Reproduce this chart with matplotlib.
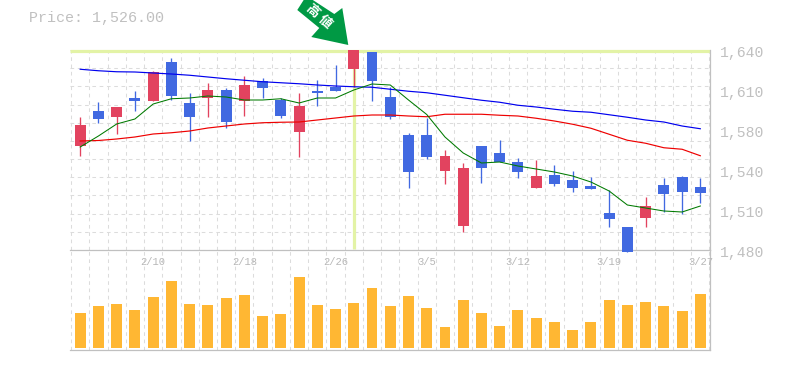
import matplotlib
matplotlib.use("Agg")
from matplotlib import pyplot as plt
from matplotlib.patches import Polygon
from matplotlib.transforms import Affine2D
import numpy as np

# Candles
opens = [1563.2, 1591.2, 1586.4, 1601.6, 1599.2, 1630.4, 1597.6, 1601.6, 1608, 1599.2, 1615.2, 1600,
         1574.4, 1607.2, 1610.4, 1624.8, 1638.4, 1602.4, 1572, 1572, 1543.4, 1499.2, 1563.2, 1557.6,
         1550.4, 1529.6, 1540, 1536, 1531.2, 1509.6, 1498.4, 1505.6, 1532, 1538.4, 1530.4]
closes = [1580, 1584.8, 1594.4, 1599.2, 1622.4, 1603.2, 1586.4, 1608, 1582.4, 1612, 1609.6, 1587.2,
          1595.2, 1605.6, 1607.2, 1640, 1615.2, 1586.4, 1542.6, 1554.4, 1555.2, 1545.6, 1545.6, 1550.4,
          1542.4, 1539.2, 1532.8, 1529.6, 1528.8, 1504.8, 1478.6, 1515.2, 1524.8, 1526.4, 1526]
highs = [1586.4, 1598.4, 1594.4, 1607.2, 1623.2, 1633.6, 1605.6, 1613.6, 1609.6, 1619.2, 1617.6, 1601.6,
         1605.6, 1616, 1628, 1640, 1638.4, 1610.4, 1573.6, 1585.6, 1560, 1549.6, 1563.2, 1568,
         1553.6, 1552, 1548, 1543.2, 1538.4, 1528, 1498.4, 1522.4, 1537.6, 1539.2, 1537.6]
lows = [1555.2, 1581.6, 1572.8, 1591.2, 1599.2, 1600, 1567.2, 1586.4, 1577.6, 1587.2, 1601.6, 1585.6,
        1554.4, 1595.2, 1607.2, 1610.4, 1599.2, 1584.8, 1529.6, 1552.8, 1533, 1494.6, 1533.8, 1550.4,
        1537.8, 1529.6, 1531.2, 1526.4, 1528.8, 1498.4, 1478.6, 1498.4, 1510.4, 1508.8, 1517.6]

# Moving averages
ma_short = [1562.4, 1571.2, 1580.8, 1584.8, 1596.8, 1601, 1601.6, 1603.2, 1602.4, 1600, 1600, 1601,
            1597.6, 1601.6, 1601.6, 1608, 1612.8, 1612, 1600, 1588.4, 1570.4, 1557.6, 1549.6, 1550.4,
            1547.2, 1544.8, 1542.4, 1539.2, 1534.4, 1527.2, 1516, 1513.6, 1511.2, 1510.4, 1515.2]
ma_mid = [1567.2, 1567.6, 1568.8, 1570.4, 1572.8, 1573.8, 1575.2, 1577.6, 1579.2, 1580.8, 1581.8, 1582.2,
          1582.4, 1584, 1585.6, 1587.2, 1588, 1588, 1587.2, 1586.6, 1588.6, 1588.6, 1588.6, 1587.8,
          1587.2, 1585.4, 1583.2, 1580.6, 1577.4, 1572.6, 1567.8, 1565.4, 1561.8, 1560.6, 1555.4]
ma_long = [1624.6, 1623.4, 1622.6, 1622.4, 1621.6, 1620.8, 1619.8, 1618.4, 1617, 1615.8, 1614.6, 1613.8,
           1613, 1612, 1611.2, 1610.6, 1610.2, 1608.6, 1607, 1605.8, 1603.8, 1601.8, 1599.8, 1598.2,
           1595.8, 1594.4, 1592.6, 1591, 1590.2, 1588.2, 1586.2, 1584, 1582.4, 1579.2, 1577]

# Volume, relative units
volumes = [35, 42, 44, 38, 51, 67, 44, 43, 50, 53, 32, 34, 71, 43, 39, 45, 60, 42,
           52, 40, 21, 48, 35, 22, 38, 30, 26, 18, 26, 48, 43, 46, 42, 37, 54]

date_idx = [4, 9, 14, 19, 24, 29, 34]
date_labels = ["2/10", "2/18", "2/26", "3/5", "3/12", "3/19", "3/27"]
price_ticks = [1640, 1608, 1576, 1544, 1512, 1480]
price_labels = ["1,640", "1,610", "1,580", "1,540", "1,510", "1,480"]

W, H = 785, 370
RED = "#e2435f"
BLUE = "#4169e1"
ORANGE = "#ffb733"
LIME = "#e3f3a6"
GRID = "#dcdcdc"
EDGE = "#c0c0c0"
MONO = "Liberation Mono"

plt.rcParams["font.family"] = [MONO, "Noto Sans CJK JP", "DejaVu Sans"]

fig = plt.figure(figsize=(W / 100, H / 100), dpi=100)
ax = fig.add_axes([70 / W, 1 - 250 / H, 640 / W, 200 / H])
ax_v = fig.add_axes([70 / W, 1 - 350 / H, 640 / W, 100 / H], zorder=0)
ax.set_zorder(1)
ax.patch.set_alpha(0)

x = np.arange(len(opens))
x_lim = (-0.559, 34.53)
grid_x = np.arange(len(opens) + 1) - 0.5
dash = (0, (3.5, 3.5))

ax.set_xlim(x_lim)
ax.set_ylim(1480, 1640)
ax_v.set_xlim(x_lim)
ax_v.set_ylim(-2, 98)

for a in (ax, ax_v):
    a.set_xticks(grid_x, minor=True)
    a.grid(which="minor", axis="x", color=GRID, linestyle=dash, linewidth=0.75)
    a.set_axisbelow(True)
    a.tick_params(which="both", length=0)
    a.set_yticks([])
    for side in ("top", "left"):
        a.spines[side].set_visible(False)
    for side in ("bottom", "right"):
        a.spines[side].set_color(EDGE)
        a.spines[side].set_linewidth(0.9)

ax.set_yticks(np.linspace(1480, 1640, 12), minor=True)
ax.grid(which="minor", axis="y", color=GRID, linestyle=dash, linewidth=0.75)
ax_v.set_xticks([])

# Date labels sit just under the price panel
ax.set_xticks(date_idx, date_labels)
ax.tick_params(axis="x", which="major", labelsize=7.6, labelcolor="#b8b8b8", pad=5)

# Highlight on the peak day
ax.plot([15, 15], [1481, 1640], color=LIME, linewidth=2.3, zorder=1, solid_capstyle="butt")
ax.plot(x_lim, [1639, 1639], color=LIME, linewidth=2.3, zorder=1, solid_capstyle="butt", clip_on=False)

for i in x:
    col = RED if closes[i] >= opens[i] else BLUE
    ax.vlines(i, lows[i], highs[i], color=col, linewidth=0.95, zorder=2, clip_on=False)
    ax.bar(i, abs(closes[i] - opens[i]), bottom=min(opens[i], closes[i]), width=0.6,
           color=col, zorder=3, clip_on=False)

ax.plot(x, ma_long, color="#0000ee", linewidth=0.85, zorder=4)
ax.plot(x, ma_mid, color="#ee0000", linewidth=0.85, zorder=4)
ax.plot(x, ma_short, color="#007a00", linewidth=0.75, zorder=4)

ax_v.bar(x, volumes, width=0.6, color=ORANGE, zorder=3)

for tick, label in zip(price_ticks, price_labels):
    ax.annotate(label, xy=(1, tick), xycoords=("axes fraction", "data"), xytext=(10, -3),
                textcoords="offset pixels", ha="left", va="center", fontsize=10.6, color=EDGE,
                annotation_clip=False)

fig.text(29 / W, 1 - 18 / H, "Price: 1,526.00", fontsize=10.8, color=EDGE, ha="left", va="center")

# Arrow pointing at the peak candle, shape in pixels relative to its tip
tip = ax.transData.transform((15, 1640)) + np.array([-5.5, 5])
to_fig = Affine2D().scale(1, -1).translate(*tip)
arrow = [(0, 0), (-6, -37), (-14, -31), (-37, -46), (-44, -46), (-51, -35), (-29, -17), (-37, -8)]
fig.add_artist(Polygon(arrow, closed=True, facecolor="#009944", edgecolor="none", transform=to_fig))
for ch, pos in zip("高値", [(-36, -34), (-23.5, -23)]):
    px = to_fig.transform(pos)
    fig.text(px[0] / W, px[1] / H, ch, color="white", fontsize=9.5, fontweight="bold",
             rotation=-42, ha="center", va="center", rotation_mode="anchor",
             family=["Noto Sans CJK JP", "DejaVu Sans"])

fig.savefig("out.png", dpi=100)
